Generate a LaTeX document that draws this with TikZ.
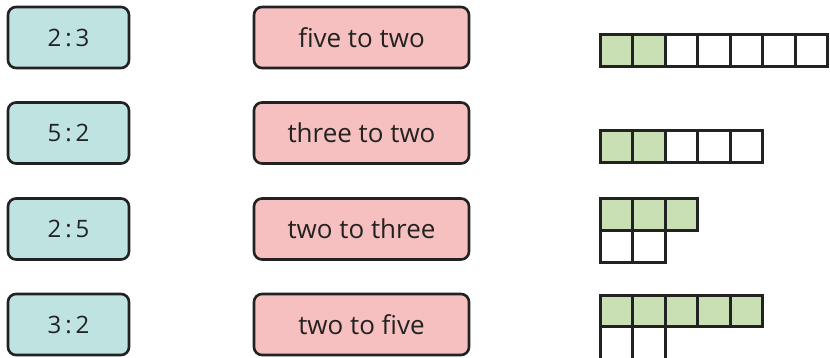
\documentclass[tikz,border=0pt]{standalone}
\usepackage{fontspec}
\setmainfont{Open Sans}
\definecolor{tealfill}{HTML}{BFE3E1}
\definecolor{pinkfill}{HTML}{F7C0C0}
\definecolor{greenfill}{HTML}{C8E0B4}
\definecolor{ink}{HTML}{222222}
\newcommand{\rt}[2]{#1\kern4pt:\kern4pt#2}
\begin{document}
\begin{tikzpicture}[x=1pt,y=-1pt,
  ratiobox/.style={draw=ink,line width=2.6pt,rounded corners=8pt,fill=tealfill,
    minimum width=121pt,minimum height=61pt,inner sep=0pt,text=ink,font=\fontsize{24}{26}\selectfont},
  wordbox/.style={draw=ink,line width=2.6pt,rounded corners=8pt,fill=pinkfill,
    minimum width=215pt,minimum height=61pt,inner sep=0pt,text=ink,font=\fontsize{26}{28}\selectfont},
  gcell/.style={draw=ink,line width=3pt,fill=greenfill},
  wcell/.style={draw=ink,line width=3pt,fill=white}]
\clip (0,0) rectangle (830,358);
\fill[white] (0,0) rectangle (830,358);
% left boxes
\node[ratiobox] (r1) at (68.5,37.5) {\rt{2}{3}};
\node[ratiobox] (r2) at (68.5,133) {\rt{5}{2}};
\node[ratiobox] (r3) at (68.5,229) {\rt{2}{5}};
\node[ratiobox] (r4) at (68.5,324.5) {\rt{3}{2}};
% middle boxes
\node[wordbox] (w1) at (361.5,37.5) {five to two};
\node[wordbox] (w2) at (361.5,133) {three to two};
\node[wordbox] (w3) at (361.5,229) {two to three};
\node[wordbox] (w4) at (361.5,324.5) {two to five};
% grids
\def\cw{32.5}
\def\ch{32}
% row 1: 2 green, 5 white
\foreach \i in {0,1} \draw[gcell] (600+\i*\cw,35) rectangle ++(\cw,\ch);
\foreach \i in {2,...,6} \draw[wcell] (600+\i*\cw,35) rectangle ++(\cw,\ch);
% row 2: 2 green, 3 white
\foreach \i in {0,1} \draw[gcell] (600+\i*\cw,131) rectangle ++(\cw,\ch);
\foreach \i in {2,3,4} \draw[wcell] (600+\i*\cw,131) rectangle ++(\cw,\ch);
% row 3: 3 green over 2 white
\foreach \i in {0,1,2} \draw[gcell] (600+\i*\cw,199) rectangle ++(\cw,\ch);
\foreach \i in {0,1} \draw[wcell] (600+\i*\cw,231) rectangle ++(\cw,\ch-1);
% row 4: 5 green over 2 white (cut off)
\foreach \i in {0,...,4} \draw[gcell] (600+\i*\cw,295.5) rectangle ++(\cw,\ch-1);
\foreach \i in {0,1} \draw[wcell] (600+\i*\cw,326.5) rectangle ++(\cw,\ch+10);
\foreach \i in {0,...,4} \draw[ink,line width=3pt] (600+\i*\cw,295.5) rectangle ++(\cw,\ch-1);
\end{tikzpicture}
\end{document}
